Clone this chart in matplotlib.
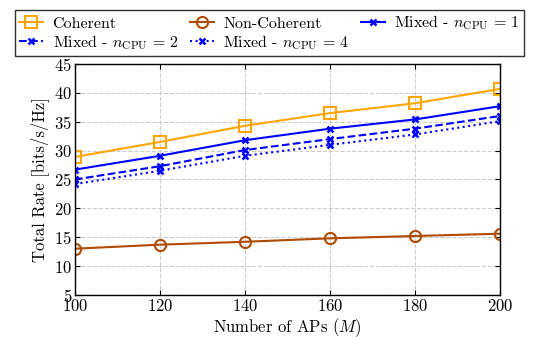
import matplotlib
matplotlib.use("Agg")
import matplotlib.pyplot as plt

plt.rcParams["font.family"] = "serif"
plt.rcParams["font.serif"] = ["cmr10"]
plt.rcParams["mathtext.fontset"] = "cm"
plt.rcParams["axes.formatter.use_mathtext"] = True

# Data
aps = [100, 120, 140, 160, 180, 200]
coherent = [28.9, 31.5, 34.3, 36.5, 38.2, 40.7]
non_coherent = [13.0, 13.7, 14.2, 14.8, 15.2, 15.6]
mixed_1 = [26.7, 29.1, 31.8, 33.8, 35.4, 37.7]
mixed_2 = [25.0, 27.3, 30.1, 32.0, 33.8, 36.0]
mixed_4 = [24.2, 26.5, 29.1, 31.0, 32.8, 35.1]

fig = plt.figure(figsize=(5.39, 3.37), dpi=100)
ax = fig.add_axes([0.139, 0.125, 0.789, 0.685])

h0, = ax.plot(aps, coherent, color="#FFA500", marker="s", markersize=8,
              markerfacecolor="none", markeredgewidth=1.5, lw=1.5, label="Coherent")
h1, = ax.plot(aps, non_coherent, color="#B04A00", marker="o", markersize=8,
              markerfacecolor="none", markeredgewidth=1.5, lw=1.5, label="Non-Coherent")
h2, = ax.plot(aps, mixed_1, color="#0000FF", marker="x", markersize=5,
              markeredgewidth=1.8, lw=1.5, label=r"Mixed - $n_{\mathrm{CPU}}\,=\,1$")
h3, = ax.plot(aps, mixed_2, color="#0000FF", marker="x", markersize=5,
              markeredgewidth=1.8, lw=1.5, ls="--", label=r"Mixed - $n_{\mathrm{CPU}}\,=\,2$")
h4, = ax.plot(aps, mixed_4, color="#0000FF", marker="x", markersize=5,
              markeredgewidth=1.8, lw=1.5, ls=":", label=r"Mixed - $n_{\mathrm{CPU}}\,=\,4$")

ax.set_xlim(100, 200)
ax.set_ylim(5, 45)
ax.set_xticks(aps)
ax.set_yticks(range(5, 50, 5))
ax.tick_params(direction="in", top=True, right=True, labelsize=12, pad=2)
ax.grid(True, ls="--", color="#cccccc", lw=0.8)
for s in ax.spines.values():
    s.set_linewidth(1.0)

ax.set_xlabel(r"Number of APs ($M$)", fontsize=12, labelpad=2)
ax.set_ylabel("Total Rate [bits/s/Hz]", fontsize=12, labelpad=4)

# reorder so the legend fills row by row
handles = [h0, h3, h1, h4, h2]
leg = fig.legend(handles, [h.get_label() for h in handles],
                 loc="upper left", bbox_to_anchor=(0.013, 0.995), ncol=3,
                 fontsize=11.5, frameon=True, fancybox=False, edgecolor="black",
                 handlelength=1.5, columnspacing=0.7, borderpad=0.25,
                 labelspacing=0.15, handletextpad=0.6)
leg.get_frame().set_linewidth(1.0)

fig.savefig("out.png", dpi=100)
